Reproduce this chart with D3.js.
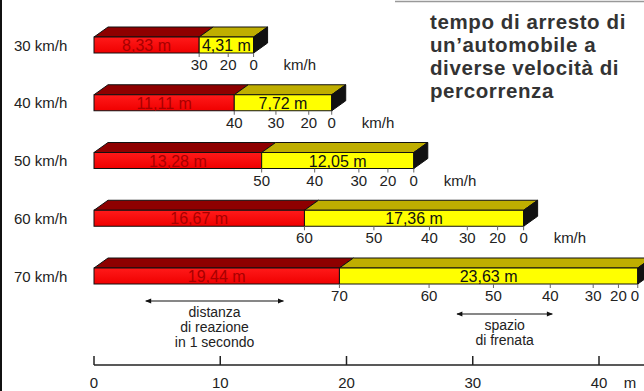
<!DOCTYPE html>
<html><head><meta charset="utf-8">
<script src="https://cdn.jsdelivr.net/npm/d3@7"></script>
<style>
html,body{margin:0;padding:0;background:#fff;}
svg{display:block;font-family:"Liberation Sans",Arial,sans-serif;}
</style></head>
<body><svg id="c" width="644" height="391"></svg>
<script>
// ---- data ----
const speedLabels = ["30 km/h","40 km/h","50 km/h","60 km/h","70 km/h"];
const reactionDist = [8.33, 11.11, 13.28, 16.67, 19.44];
const brakingDist  = [4.31, 7.72, 12.05, 17.36, 23.63];
const tickSpeeds = [
  [30,20,0],
  [40,30,20,0],
  [50,40,30,20,0],
  [60,50,40,30,20,0],
  [70,60,50,40,30,20,0]
];
// distance travelled while braking (m) when the given speed is reached
const tickBrakeDist = [
  [0,2.3,4.31],
  [0,3.3,5.9,7.72],
  [0,4.2,7.7,10.0,12.05],
  [0,5.5,9.9,12.9,15.3,17.36],
  [0,7.1,12.2,16.7,20.1,22.1,23.63]
];
const axisTicks = [0,10,20,30,40];
const titleLines = ["tempo di arresto di","un\u2019automobile a","diverse velocità di","percorrenza"];
const reactionArrow = [4.1, 15.0];
const brakingArrow = [28.75, 36.3];
const reactionText = ["distanza","di reazione","in 1 secondo"];
const brakingText = ["spazio","di frenata"];

// ---- drawing ----
const W = 644;
const svg = d3.select("#c");
const fmt = d3.formatLocale({decimal:",",thousands:".",grouping:[3],currency:["","€"]}).format(".2f");
const x = d3.scaleLinear().domain([0,40]).range([94,599]);
const y = d3.scalePoint().domain(speedLabels).range([37,268]);
const H = 16, dx = 14, dy = 10;

// left border & top rule
svg.append("rect").attr("x",0).attr("y",0).attr("width",2).attr("height",391).attr("fill","#111");
svg.append("line").attr("x1",395).attr("x2",W).attr("y1",1.5).attr("y2",1.5).attr("stroke","#999").attr("stroke-width",1.5);

const defs = svg.append("defs");
const g1 = defs.append("linearGradient").attr("id","red").attr("x1",0).attr("x2",0).attr("y1",0).attr("y2",1);
g1.append("stop").attr("offset","0").attr("stop-color","#ff1a1a");
g1.append("stop").attr("offset","1").attr("stop-color","#f00000");

function prism(g, xa, xb, yt, front, top){
  g.append("path")
    .attr("d",`M${xa},${yt}L${xa+dx},${yt-dy}L${xb+dx},${yt-dy}L${xb},${yt}Z`)
    .attr("fill",top).attr("stroke","#111").attr("stroke-width",1);
  g.append("rect").attr("x",xa).attr("y",yt).attr("width",xb-xa).attr("height",H)
    .attr("fill",front).attr("stroke","#111").attr("stroke-width",1);
}

speedLabels.forEach((s,i)=>{
  const g = svg.append("g");
  const yt = y(s);
  const x0 = x(0), x1 = x(reactionDist[i]), x2 = x(reactionDist[i]+brakingDist[i]);
  prism(g, x0, x1, yt, "url(#red)", "#8e0000");
  prism(g, x1, x2, yt, "#ffff00", "#bfae00");
  // side face
  g.append("path")
    .attr("d",`M${x2},${yt}L${x2+dx},${yt-dy}L${x2+dx},${yt+H-dy}L${x2},${yt+H}Z`)
    .attr("fill","#111").attr("stroke","#111");
  // row label
  g.append("text").attr("x",14).attr("y",yt+H/2+5.5).attr("font-size",15).attr("fill","#222").text(s);
  // segment labels
  g.append("text").attr("x",(x0+x1)/2).attr("y",yt+H/2+6).attr("text-anchor","middle")
    .attr("font-size",16).attr("fill","#a80000").text(fmt(reactionDist[i])+" m");
  g.append("text").attr("x",(x1+x2)/2).attr("y",yt+H/2+6).attr("text-anchor","middle")
    .attr("font-size",16).attr("fill","#111").text(fmt(brakingDist[i])+" m");
  // speed ticks
  tickSpeeds[i].forEach((v,j)=>{
    const xt = x(reactionDist[i]+tickBrakeDist[i][j]);
    g.append("line").attr("x1",xt).attr("x2",xt).attr("y1",yt+H).attr("y2",yt+H+4).attr("stroke","#666");
    g.append("text").attr("x",Math.min(xt, W-9)).attr("y",yt+H+17).attr("text-anchor","middle")
      .attr("font-size",15).attr("fill","#222").text(v);
  });
  // unit label (falls outside the frame for the last row, as in the original)
  if (x2 + 70 < W) {
    g.append("text").attr("x",x2+30).attr("y",yt+H+17).attr("font-size",15).attr("fill","#222").text("km/h");
  }
});

// title
svg.append("g").selectAll("text").data(titleLines).join("text")
  .attr("x",430).attr("y",(d,i)=>29+i*23)
  .attr("font-size",20.5).attr("font-weight","bold").attr("letter-spacing",0.6)
  .attr("fill","#333").text(d=>d);

// annotation arrows
defs.append("marker").attr("id","ah").attr("viewBox","0 0 10 10").attr("refX",9).attr("refY",5)
  .attr("markerWidth",7).attr("markerHeight",5).attr("orient","auto-start-reverse")
  .append("path").attr("d","M0,1L10,5L0,9Z").attr("fill","#111");
function arrow(r, yy){
  svg.append("line").attr("x1",x(r[0])).attr("x2",x(r[1])).attr("y1",yy).attr("y2",yy)
    .attr("stroke","#111").attr("stroke-width",1.2)
    .attr("marker-start","url(#ah)").attr("marker-end","url(#ah)");
}
arrow(reactionArrow, 301);
arrow(brakingArrow, 314);
svg.append("g").selectAll("text").data(reactionText).join("text")
  .attr("x",x((reactionArrow[0]+reactionArrow[1])/2)).attr("y",(d,i)=>316.5+i*15)
  .attr("text-anchor","middle").attr("font-size",14).attr("fill","#222").text(d=>d);
svg.append("g").selectAll("text").data(brakingText).join("text")
  .attr("x",x((brakingArrow[0]+brakingArrow[1])/2)).attr("y",(d,i)=>330+i*15)
  .attr("text-anchor","middle").attr("font-size",14).attr("fill","#222").text(d=>d);

// bottom metre axis
const ay = 365;
const ax = svg.append("g");
ax.append("line").attr("x1",x(0)).attr("x2",W).attr("y1",ay).attr("y2",ay).attr("stroke","#222").attr("stroke-width",1.5);
ax.selectAll(".t").data(axisTicks).join("line").attr("class","t")
  .attr("x1",d=>x(d)).attr("x2",d=>x(d)).attr("y1",ay-9).attr("y2",ay).attr("stroke","#222").attr("stroke-width",1.5);
ax.selectAll(".l").data(axisTicks).join("text").attr("class","l")
  .attr("x",d=>x(d)).attr("y",ay+23).attr("text-anchor","middle").attr("font-size",15).attr("fill","#222").text(d=>d);
ax.append("text").attr("x",x(40)+31).attr("y",ay+23).attr("text-anchor","middle").attr("font-size",15).attr("fill","#222").text("m");
</script></body></html>
